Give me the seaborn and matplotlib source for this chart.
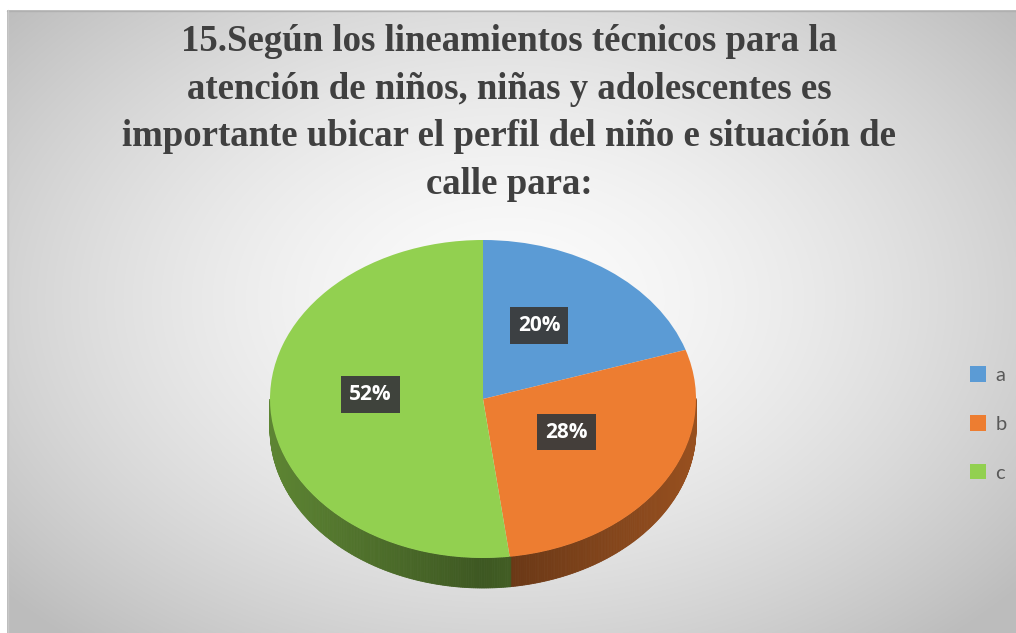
import numpy as np
import matplotlib.pyplot as plt
import matplotlib.colors as mcolors
import seaborn as sns

# data
categories = ["a", "b", "c"]
shares = [20, 28, 52]
colors = ["#5B9BD5", "#ED7D31", "#92D050"]
title = ("15.Según los lineamientos técnicos para la\n"
         "atención de niños, niñas y adolescentes es\n"
         "importante ubicar el perfil del niño e situación de\n"
         "calle para:")

sns.set_theme(style="white")
plt.rcParams["font.family"] = ["Open Sans", "DejaVu Sans"]

W, H = 1016, 633
fig = plt.figure(figsize=(W / 100, H / 100), dpi=100)
fig.patch.set_facecolor("white")

# background with radial grey gradient
bg = fig.add_axes([0, 0, 1, 1])
bg.set_xlim(0, W)
bg.set_ylim(H, 0)
bg.axis("off")
yy, xx = np.mgrid[0:H, 0:W]
r = np.sqrt(((xx - 508) / 620.0) ** 2 + ((yy - 300) / 420.0) ** 2)
shade = np.clip(0.985 - 0.22 * r ** 1.6, 0.74, 1)
img = np.dstack([shade, shade, shade])
bg.imshow(img, extent=(0, W, H, 0), aspect="auto")
bg.add_patch(plt.Rectangle((0, 0), 7, H, color="white", lw=0))
bg.add_patch(plt.Rectangle((0, 0), W, 10, color="white", lw=0))
bg.plot([7, W], [10.5, 10.5], color="#b0b0b0", lw=1)
bg.plot([7.5, 7.5], [10, H], color="#c8c8c8", lw=1)

fig.text(0.501, 1 - 24 / H, title, ha="center", va="top",
         family="Liberation Serif", weight="bold", fontsize=26.5,
         color="#404040", linespacing=1.47)

# pie axes: one data unit = 213 px across, 159 px down
cx, cy, rx, ry = 483, 399, 213, 159
xl, yl = (-1.3, 1.3), (-1.4, 1.2)
ax = fig.add_axes([(cx + xl[0] * rx) / W, (H - cy + yl[0] * ry) / H,
                   (xl[1] - xl[0]) * rx / W, (yl[1] - yl[0]) * ry / H])
ax.patch.set_alpha(0)

wedges, texts, autotexts = ax.pie(
    shares, colors=colors, startangle=90, counterclock=False,
    autopct="%1.0f%%", pctdistance=0.5,
    wedgeprops=dict(linewidth=0, zorder=3),
    textprops=dict(color="white", weight="bold", fontsize=15, zorder=5),
)
for t in autotexts:
    t.set_bbox(dict(boxstyle="square,pad=0.38", fc="#3b3b3b", ec="none", alpha=0.95))
    t.set_zorder(6)
    x, y = t.get_position()
    t.set_position((x - 0.03, y + 0.06))

# side walls of the 3D pie
depth = 30 / ry
for w, col in zip(wedges, colors):
    base = np.array(mcolors.to_rgb(col))
    a0, a1 = sorted([w.theta1, w.theta2])
    angs = np.arange(a0, a1 + 0.5, 0.5)
    for t0, t1 in zip(angs[:-1], angs[1:]):
        tm = np.deg2rad((t0 + t1) / 2)
        if np.sin(tm) >= 0:
            continue
        p0, p1 = np.deg2rad(t0), np.deg2rad(t1)
        fac = 0.42 + 0.22 * abs(np.cos(tm))
        xs = [np.cos(p0), np.cos(p1), np.cos(p1), np.cos(p0)]
        ys = [np.sin(p0), np.sin(p1), np.sin(p1) - depth, np.sin(p0) - depth]
        ax.fill(xs, ys, color=base * fac, lw=0.6, ec=base * fac, zorder=2)

ax.set_aspect("auto")
ax.set_xlim(*xl)
ax.set_ylim(*yl)
ax.axis("off")

leg = fig.legend(wedges, categories, loc="center left",
                 bbox_to_anchor=(952 / W, 1 - 424 / H), frameon=False,
                 handlelength=0.8, handleheight=0.8, handletextpad=0.45,
                 labelspacing=1.55, prop=dict(family="Lato", size=14.5))
for txt in leg.get_texts():
    txt.set_color("#595959")

fig.savefig("out.png", dpi=100)
